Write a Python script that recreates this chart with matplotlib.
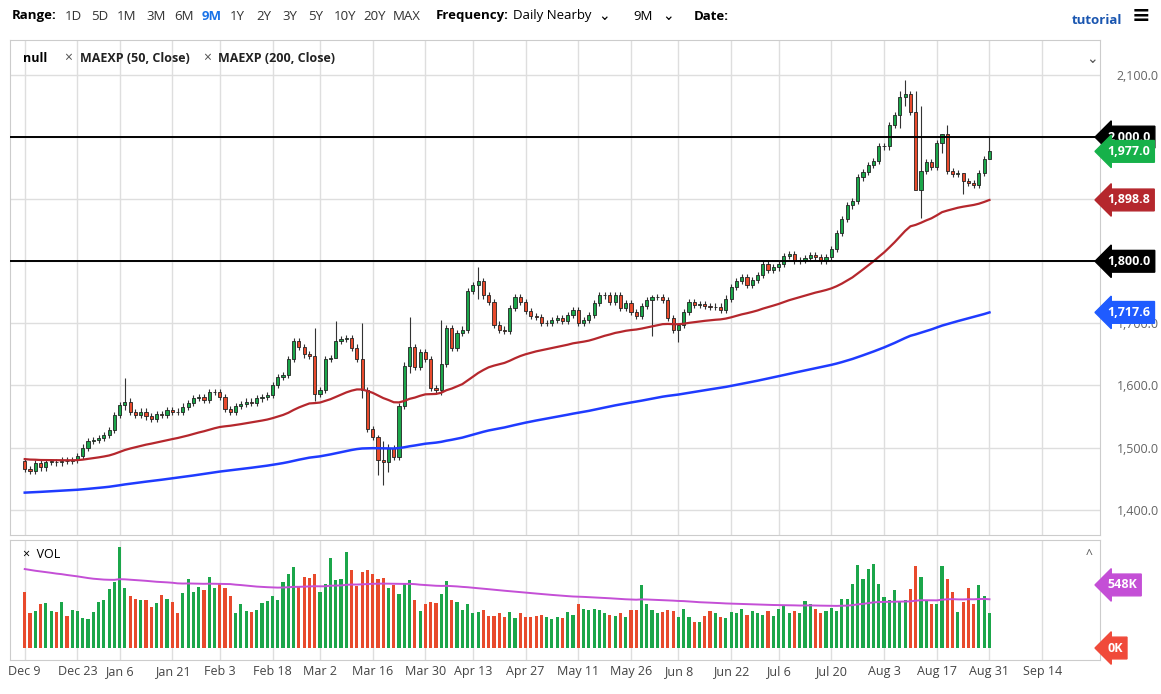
import numpy as np
import matplotlib.pyplot as plt
from matplotlib.patches import Rectangle

plt.rcParams["font.family"] = "Open Sans"

# daily closes, Dec 9 2019 .. Aug 31 2020
closes = [
    1465, 1463, 1475, 1468, 1477, 1477, 1476, 1479, 1478, 1480,
    1486, 1500, 1510, 1512, 1515, 1520, 1528, 1552,
    1568, 1574, 1557, 1553, 1558, 1550, 1546, 1554, 1552, 1560,
    1558, 1557, 1566, 1572, 1580, 1582, 1576, 1589, 1589,
    1582, 1562, 1558, 1567, 1570, 1574, 1572, 1579, 1581, 1585,
    1601, 1613, 1617, 1642, 1672, 1662, 1650, 1648, 1586,
    1593, 1642, 1644, 1672, 1675, 1676, 1661, 1642, 1592, 1530,
    1517, 1480, 1477, 1499, 1485, 1567, 1632, 1662, 1630, 1654,
    1643, 1596, 1592, 1635, 1693, 1660, 1684, 1690, 1752,
    1761, 1768, 1745, 1735, 1698, 1690, 1688, 1725, 1742, 1735,
    1720, 1712, 1710, 1700, 1700, 1705, 1708, 1704, 1713, 1722,
    1700, 1705, 1713, 1733, 1745, 1745, 1735, 1745, 1725, 1733,
    1718, 1712, 1728, 1737, 1742, 1742, 1738, 1708, 1690,
    1697, 1718, 1735, 1730, 1731, 1728, 1726, 1727, 1722, 1740,
    1758, 1768, 1775, 1762, 1770, 1778, 1795, 1786, 1790,
    1795, 1808, 1812, 1800, 1802, 1805, 1810, 1807, 1800, 1807,
    1820, 1845, 1868, 1890, 1897, 1935, 1944, 1955, 1962, 1985,
    1985, 2020, 2035, 2065, 2070, 2040, 1915, 1945, 1960, 1952,
    1990, 2005, 1945, 1940, 1942, 1929, 1926, 1923, 1942, 1965,
    1977,
]
first_open = 1478
# notable long wicks: index -> (high, low)
wick_overrides = {
    19: (1612, 1560), 55: (1692, 1575), 59: (1703, 1655), 64: (1700, 1580),
    67: (1520, 1455), 68: (1510, 1440), 69: (1505, 1460), 73: (1710, 1620),
    79: (1705, 1585), 86: (1790, 1740), 119: (1745, 1680), 124: (1700, 1670),
    166: (2075, 2015), 167: (2092, 2050), 169: (2075, 2000), 170: (2050, 1870),
    174: (2005, 1975), 175: (2020, 1940), 178: (1942, 1908), 183: (2000, 1965),
}
# volume in thousands
volumes = [
    490, 300, 320, 380, 390, 320, 310, 400, 280, 330,
    320, 260, 250, 310, 400, 420, 510, 570,
    880, 520, 450, 430, 420, 420, 360, 390, 460, 430,
    400, 300, 480, 600, 490, 530, 500, 620, 520,
    560, 520, 450, 300, 380, 320, 310, 330, 390, 410,
    450, 420, 570, 640, 700, 540, 620, 610, 640,
    490, 560, 780, 590, 600, 830, 680, 540, 660, 680,
    640, 600, 610, 520, 550, 470, 560, 590, 420, 320,
    380, 400, 390, 470, 580, 420, 400, 330, 380,
    300, 310, 330, 280, 280, 300, 270, 310, 260, 300,
    270, 270, 280, 290, 270, 250, 270, 260, 310, 290,
    380, 340, 330, 340, 330, 300, 290, 280, 300, 270,
    330, 330, 550, 380, 330, 300, 310, 330, 320,
    270, 340, 270, 230, 230, 280, 320, 300, 270, 260,
    310, 300, 340, 290, 320, 300, 290, 320, 280,
    340, 370, 300, 320, 300, 410, 380, 340, 300, 320,
    350, 320, 430, 430, 560, 720, 600, 690, 730, 560,
    440, 420, 500, 400, 420, 510, 710, 620, 420, 380,
    380, 710, 600, 490, 310, 400, 520, 380, 550, 450,
    300,
]
date_labels = ["Dec 9", "Dec 23", "Jan 6", "Jan 21", "Feb 3", "Feb 18", "Mar 2",
               "Mar 16", "Mar 30", "Apr 13", "Apr 27", "May 11", "May 26", "Jun 8",
               "Jun 22", "Jul 6", "Jul 20", "Aug 3", "Aug 17", "Aug 31", "Sep 14"]
date_index = [0, 10, 18, 28, 37, 47, 56, 66, 76, 85, 95, 105, 115, 124,
              134, 143, 153, 163, 173, 183, 193]
price_ticks = [1400, 1500, 1600, 1700, 1800, 1900, 2000, 2100]
covered_ticks = [1800, 1900, 2000]   # hidden behind the price tags
levels = [1800, 2000]

GREEN = "#1ba64a"
RED = "#e84a2c"
GRID = "#dedede"
W, H = 1161, 694

closes = np.array(closes, dtype=float)
opens = np.concatenate([[first_open], closes[:-1]])
n = len(closes)
x = np.arange(n)
highs = np.maximum(opens, closes) + 5
lows = np.minimum(opens, closes) - 5
for i, (h, l) in wick_overrides.items():
    highs[i], lows[i] = h, l


def ema(vals, span, seed):
    a = 2 / (span + 1)
    out, prev = [], seed
    for v in vals:
        prev = prev + a * (v - prev)
        out.append(prev)
    return np.array(out)


ema50 = ema(closes, 50, 1482)
ema200 = ema(closes, 200, 1427)
vol_avg = ema(np.array(volumes, float), 100, 690)

fig = plt.figure(figsize=(11.61, 6.94), dpi=100)
ax = fig.add_axes([0.0086, 0.229, 0.939, 0.713])
axv = fig.add_axes([0.0086, 0.049, 0.939, 0.173], sharex=ax)

for a in (ax, axv):
    a.set_facecolor("white")
    for s in a.spines.values():
        s.set_color("#cccccc")
    a.tick_params(length=0)
    for xi in date_index:
        a.axvline(xi, color=GRID, lw=1, zorder=0)

for p in price_ticks:
    ax.axhline(p, color=GRID, lw=1, zorder=0)

w = 0.6
for i in range(n):
    up = closes[i] >= opens[i]
    col = GREEN if up else RED
    ax.vlines(x[i], lows[i], highs[i], color="#333333", lw=0.8, zorder=2)
    bot = min(opens[i], closes[i])
    hgt = max(abs(closes[i] - opens[i]), 0.8)
    ax.add_patch(Rectangle((x[i] - w / 2, bot), w, hgt, facecolor=col,
                           edgecolor="#222222", lw=0.6, zorder=3))

ax.plot(x, ema50, color="#b5272d", lw=1.6, zorder=4)
ax.plot(x, ema200, color="#1f3bff", lw=1.8, zorder=4)
for lv in levels:
    ax.axhline(lv, color="black", lw=1.4, zorder=5)

ax.set_ylim(1359, 2156)
ax.set_xlim(-2.8, 204)
ax.set_yticks(price_ticks)
ax.yaxis.tick_right()
ax.tick_params(axis="y", pad=12)
ax.set_yticklabels(["" if p in covered_ticks else f"{p:,.1f}" for p in price_ticks],
                   color="#666666", fontsize=9)
plt.setp(ax.get_xticklabels(), visible=False)


def tag(axis, y, text, color):
    axis.annotate(text, xy=(1.0, y), xycoords=("axes fraction", "data"),
                  xytext=(5, 0), textcoords="offset points", ha="left", va="center",
                  color="white", fontsize=9, fontweight="bold", annotation_clip=False,
                  zorder=20,
                  bbox=dict(boxstyle="larrow,pad=0.35", fc=color, ec=color))


tag(ax, 2000, "2,000.0", "black")
tag(ax, 1800, "1,800.0", "black")
tag(ax, closes[-1], f"{closes[-1]:,.1f}", "#16b14a")
tag(ax, ema50[-1], f"{ema50[-1]:,.1f}", "#b5272d")
tag(ax, ema200[-1], f"{ema200[-1]:,.1f}", "#1f5bff")

leg_y = 0.963
ax.text(0.012, leg_y, "null", transform=ax.transAxes, fontsize=9, fontweight="bold", va="center")
ax.text(0.050, leg_y, "×", transform=ax.transAxes, fontsize=10, va="center", color="#555555")
ax.text(0.064, leg_y, "MAEXP (50, Close)", transform=ax.transAxes, fontsize=9,
        fontweight="bold", va="center", color="#222222")
ax.text(0.177, leg_y, "×", transform=ax.transAxes, fontsize=10, va="center", color="#555555")
ax.text(0.191, leg_y, "MAEXP (200, Close)", transform=ax.transAxes, fontsize=9,
        fontweight="bold", va="center", color="#222222")
ax.text(0.987, leg_y, "⌄", transform=ax.transAxes, fontsize=10, va="center",
        color="#555555", family="DejaVu Sans")

vcols = [GREEN if closes[i] >= opens[i] else RED for i in range(n)]
axv.bar(x, volumes, width=0.6, color=vcols, zorder=2)
axv.plot(x, vol_avg, color="#c44fd6", lw=1.4, zorder=3)
axv.set_ylim(-104, 939)
axv.set_yticks([])
axv.set_xticks(date_index)
axv.set_xticklabels(date_labels, fontsize=9, color="#444444")
axv.text(0.012, 0.88, "×  VOL", transform=axv.transAxes, fontsize=9, va="center")
axv.text(0.987, 0.88, "^", transform=axv.transAxes, fontsize=9, va="center", color="#555555")
tag(axv, 548, "548K", "#c44fd6")
tag(axv, 0, "0K", "#f04a3a")

ty = 1 - 16 / H
fig.text(12 / W, ty, "Range:", fontsize=9.5, fontweight="bold", va="center")
ranges = ["1D", "5D", "1M", "3M", "6M", "9M", "1Y", "2Y", "3Y", "5Y", "10Y", "20Y", "MAX"]
range_px = [65, 91, 117, 146, 174, 202, 230, 256, 282, 308, 334, 363, 393]
for r, px in zip(ranges, range_px):
    fig.text(px / W, ty, r, fontsize=9.5, va="center",
             color="#1a73e8" if r == "9M" else "#333333",
             fontweight="bold" if r == "9M" else "normal")
fig.text(436 / W, ty, "Frequency:", fontsize=9.5, fontweight="bold", va="center")
fig.text(513 / W, ty, "Daily Nearby", fontsize=9.5, va="center")
fig.text(598 / W, ty, "⌄", fontsize=10, va="center", family="DejaVu Sans")
fig.text(633 / W, ty, "9M", fontsize=9.5, va="center")
fig.text(662 / W, ty, "⌄", fontsize=10, va="center", family="DejaVu Sans")
fig.text(694 / W, ty, "Date:", fontsize=9.5, fontweight="bold", va="center")
fig.text(1072 / W, 1 - 20 / H, "tutorial", fontsize=9.5, fontweight="bold", color="#1a56b0", va="center")
fig.text(1132 / W, ty, "≡", fontsize=16, fontweight="bold", va="center", family="DejaVu Sans")

fig.savefig("out.png", dpi=100, facecolor="white")
